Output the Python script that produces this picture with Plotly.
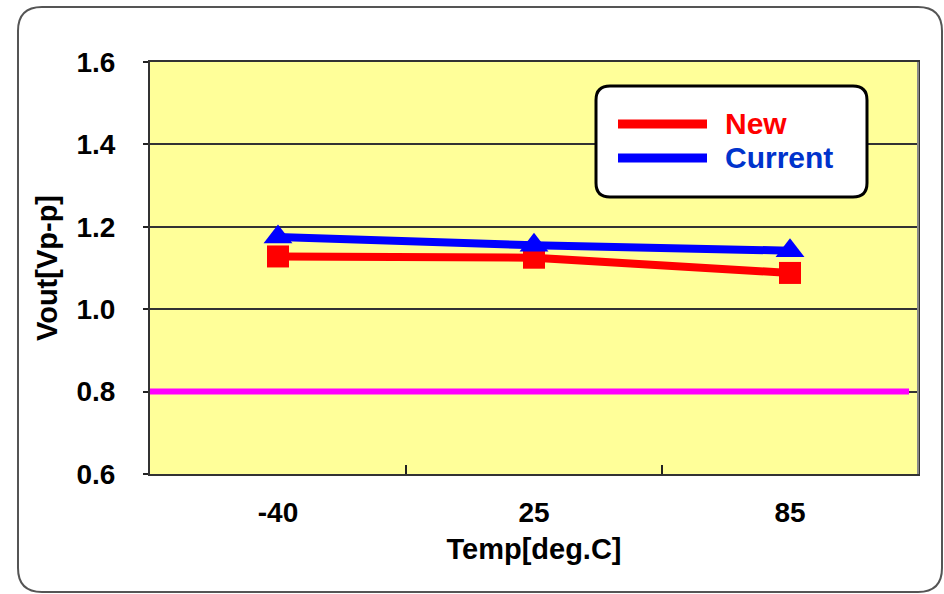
import plotly.graph_objects as go

# ---- data ----
temps = ["-40", "25", "85"]
vout_new = [1.128, 1.125, 1.088]
vout_current = [1.175, 1.155, 1.142]
spec_limit = 0.8
y_ticks = [0.6, 0.8, 1.0, 1.2, 1.4, 1.6]
series_names = ["New", "Current"]

W, H = 944, 594
L, R, T, B = 150, 26, 62, 120
PW, PH = W - L - R, H - T - B

def px(x):
    return (x - L) / PW

def py(y):
    return (H - B - y) / PH

FONT = "Liberation Sans"

fig = go.Figure()
fig.add_trace(go.Scatter(
    x=temps, y=vout_new, name=series_names[0], mode="lines+markers",
    line=dict(color="#FF0000", width=8),
    marker=dict(symbol="square", size=22, color="#FF0000"),
    showlegend=False,
))
fig.add_trace(go.Scatter(
    x=temps, y=vout_current, name=series_names[1], mode="lines+markers",
    line=dict(color="#0000FF", width=8),
    marker=dict(symbol="triangle-up", size=25, color="#0000FF"),
    showlegend=False,
))

shapes = []
# spec limit line
shapes.append(dict(type="line", xref="x", yref="y", x0=-0.5, x1=2.465,
                   y0=spec_limit, y1=spec_limit,
                   line=dict(color="#FF00FF", width=6), layer="above"))

def rounded(x0, y0, x1, y1, r):
    def P(x, y):
        return f"{px(x):.5f},{py(y):.5f}"
    return (f"M {P(x0 + r, y0)} L {P(x1 - r, y0)} Q {P(x1, y0)} {P(x1, y0 + r)} "
            f"L {P(x1, y1 - r)} Q {P(x1, y1)} {P(x1 - r, y1)} "
            f"L {P(x0 + r, y1)} Q {P(x0, y1)} {P(x0, y1 - r)} "
            f"L {P(x0, y0 + r)} Q {P(x0, y0)} {P(x0 + r, y0)} Z")

# outer chart border
shapes.append(dict(type="path", xref="paper", yref="paper",
                   path=rounded(18, 7, 942, 592, 24),
                   line=dict(color="#555555", width=2), fillcolor="rgba(0,0,0,0)",
                   layer="below"))
# right plot border in gray
shapes.append(dict(type="line", xref="paper", yref="paper", x0=1, x1=1, y0=0, y1=1,
                   line=dict(color="#888888", width=2), layer="above"))
# legend box
shapes.append(dict(type="path", xref="paper", yref="paper",
                   path=rounded(596, 86, 867, 197, 14),
                   line=dict(color="#000000", width=3), fillcolor="#FFFFFF",
                   layer="above"))
legend_colors = ["#FF0000", "#0000FF"]
legend_text_colors = ["#FF0000", "#0033CC"]
legend_y = [124, 158]
annotations = []
for name, c, tc, yy in zip(series_names, legend_colors, legend_text_colors, legend_y):
    shapes.append(dict(type="line", xref="paper", yref="paper",
                       x0=px(618), x1=px(707), y0=py(yy), y1=py(yy),
                       line=dict(color=c, width=9), layer="above"))
    annotations.append(dict(xref="paper", yref="paper", x=px(723), y=py(yy - 1),
                            xanchor="left", yanchor="middle", showarrow=False,
                            text=name, font=dict(family=FONT, size=30, color=tc, weight="bold")))

fig.update_layout(
    width=W, height=H,
    margin=dict(l=L, r=R, t=T, b=B),
    paper_bgcolor="#FFFFFF",
    plot_bgcolor="#FFFF99",
    shapes=shapes,
    annotations=annotations,
    showlegend=False,
    font=dict(family=FONT, color="#000000"),
)
fig.update_xaxes(
    type="category", range=[-0.5, 2.5],
    showgrid=False, zeroline=False,
    showline=True, linecolor="#333333", linewidth=2, mirror=True,
    ticks="inside", tickson="boundaries", ticklen=9, tickwidth=2, tickcolor="#222222",
    tickfont=dict(family=FONT, size=28, weight="bold", color="#000000"),
    ticklabelstandoff=12,
    title=dict(text="Temp[deg.C]", font=dict(family=FONT, size=29, weight="bold"), standoff=12),
)
fig.update_yaxes(
    range=[0.6, 1.6], tickvals=y_ticks, ticktext=[f"{v:.1f}" for v in y_ticks],
    showgrid=True, gridcolor="#333333", gridwidth=1.5, zeroline=False,
    showline=True, linecolor="#333333", linewidth=2, mirror=True,
    ticks="outside", ticklen=5, tickwidth=1.5, tickcolor="#222222",
    tickfont=dict(family=FONT, size=28, weight="bold", color="#000000"),
    ticklabelstandoff=22,
    title=dict(text="Vout[Vp-p]", font=dict(family=FONT, size=29, weight="bold"), standoff=10),
)

fig.write_html("out.html")
